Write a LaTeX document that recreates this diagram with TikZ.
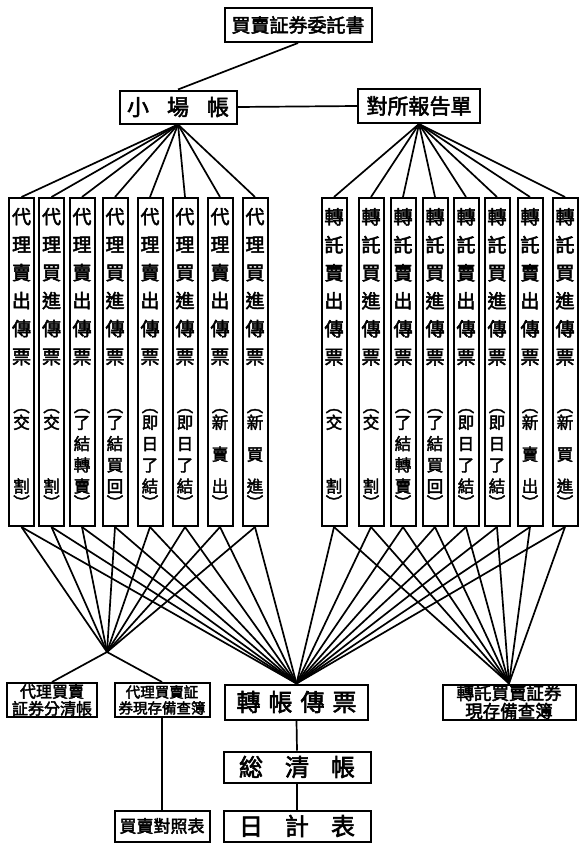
\documentclass[tikz,border=0pt]{standalone}
\usepackage{fontspec}
\setmainfont{Noto Sans CJK TC}[FakeBold=2.5]
\usetikzlibrary{positioning}

% one slip column: two prefix chars, two action chars, bracketed note
\newcommand{\vslip}[3]{%
  \vbox to 328pt{\hsize=25pt\centering\parskip=0pt\parindent=0pt
    \fontsize{19}{28}\selectfont
    \vskip 10pt
    \twochars#1\twochars#2傳\par 票\par
    \vfill
    \vbox to 100pt{\fontsize{16.5}{16.6}\selectfont ︵\par
      \foreach \ch [count=\n] in {#3}{\ifnum\n>1 \vfill\fi\ch\par}%
      ︶\par}%
    \vskip 17pt}}
\def\twochars#1#2{#1\par #2\par}

\tikzset{
  doc/.style={rectangle, draw, line width=2pt, inner sep=0pt,
    minimum height=34pt, align=center},
  slip/.style={rectangle, draw, line width=2pt, inner sep=0pt,
    minimum width=25pt, minimum height=328pt},
  link/.style={line width=1.7pt}
}

\begin{document}
\begin{tikzpicture}[x=1pt, y=-1pt]
  \useasboundingbox (0,0) rectangle (581,843);
  % upper part
  \node[doc, minimum width=147pt, font=\fontsize{19}{20}\selectfont] (wt) at (298,25) {買賣証券委託書};
  \node[doc, minimum width=117pt, minimum height=33pt, font=\fontsize{22}{24}\selectfont] (xc) at (178,107) {小\hspace{18pt}場\hspace{18pt}帳};
  \node[doc, minimum width=122pt, font=\fontsize{21}{22}\selectfont] (db) at (419,106) {對所報告單};
  \draw[link] (wt.south) -- (xc.north);
  \draw[link] (xc.east) -- (db.west);

  % slips
  \node[slip] (l1) at (21.5,362) {\vslip{代理}{賣出}{交,割}};
  \node[slip] (l2) at (51.5,362) {\vslip{代理}{買進}{交,割}};
  \node[slip] (l3) at (82,362)   {\vslip{代理}{賣出}{了,結,轉,賣}};
  \node[slip] (l4) at (115,362)  {\vslip{代理}{買進}{了,結,買,回}};
  \node[slip] (l5) at (150,362)  {\vslip{代理}{賣出}{即,日,了,結}};
  \node[slip] (l6) at (185,362)  {\vslip{代理}{買進}{即,日,了,結}};
  \node[slip] (l7) at (220,362)  {\vslip{代理}{賣出}{新,賣,出}};
  \node[slip] (l8) at (255,362)  {\vslip{代理}{買進}{新,買,進}};
  \node[slip] (r1) at (334,362)  {\vslip{轉託}{賣出}{交,割}};
  \node[slip] (r2) at (371,362)  {\vslip{轉託}{買進}{交,割}};
  \node[slip] (r3) at (403,362)  {\vslip{轉託}{賣出}{了,結,轉,賣}};
  \node[slip] (r4) at (435,362)  {\vslip{轉託}{買進}{了,結,買,回}};
  \node[slip] (r5) at (466,362)  {\vslip{轉託}{賣出}{即,日,了,結}};
  \node[slip] (r6) at (497,362)  {\vslip{轉託}{買進}{即,日,了,結}};
  \node[slip] (r7) at (530,362)  {\vslip{轉託}{賣出}{新,賣,出}};
  \node[slip] (r8) at (565,362)  {\vslip{轉託}{買進}{新,買,進}};

  % lower part
  \node[doc, minimum width=90pt, font=\fontsize{16}{17}\selectfont] (fq) at (52,700) {代理買賣\\証券分清帳};
  \node[doc, minimum width=95pt, font=\fontsize{14.5}{16}\selectfont] (xcun) at (162,700) {代理買賣証\\券現存備查簿};
  \node[doc, minimum width=143pt, minimum height=35pt, font=\fontsize{24}{26}\selectfont] (zz) at (296.5,702) {轉\hspace{8pt}帳\hspace{8pt}傳\hspace{8pt}票};
  \node[doc, minimum width=133pt, minimum height=35pt, font=\fontsize{17.5}{18}\selectfont] (zt) at (509,702) {轉託買賣証券\\現存備查簿};
  \node[doc, minimum width=147pt, minimum height=31pt, font=\fontsize{24}{26}\selectfont] (zq) at (297,767) {総\hspace{22pt}清\hspace{22pt}帳};
  \node[doc, minimum width=147pt, minimum height=31pt, font=\fontsize{24}{26}\selectfont] (rj) at (297,826) {日\hspace{22pt}計\hspace{22pt}表};
  \node[doc, minimum width=95pt, minimum height=31pt, font=\fontsize{17}{18}\selectfont] (dz) at (162,826) {買賣對照表};
  \coordinate (lj) at (107,652);

  \foreach \i in {1,...,8} {
    \draw[link] (xc.south) -- (l\i.north);
    \draw[link] (db.south) -- (r\i.north);
    \draw[link] (l\i.south) -- (lj);
    \draw[link] (l\i.south) -- (zz.north);
    \draw[link] (r\i.south) -- (zz.north);
    \draw[link] (r\i.south) -- (zt.north);
  }
  \draw[link] (lj) -- (fq.north);
  \draw[link] (lj) -- (xcun.north);
  \draw[link] (xcun.south) -- (dz.north);
  \draw[link] (zz.south) -- (zq.north);
  \draw[link] (zq.south) -- (rj.north);
\end{tikzpicture}
\end{document}
